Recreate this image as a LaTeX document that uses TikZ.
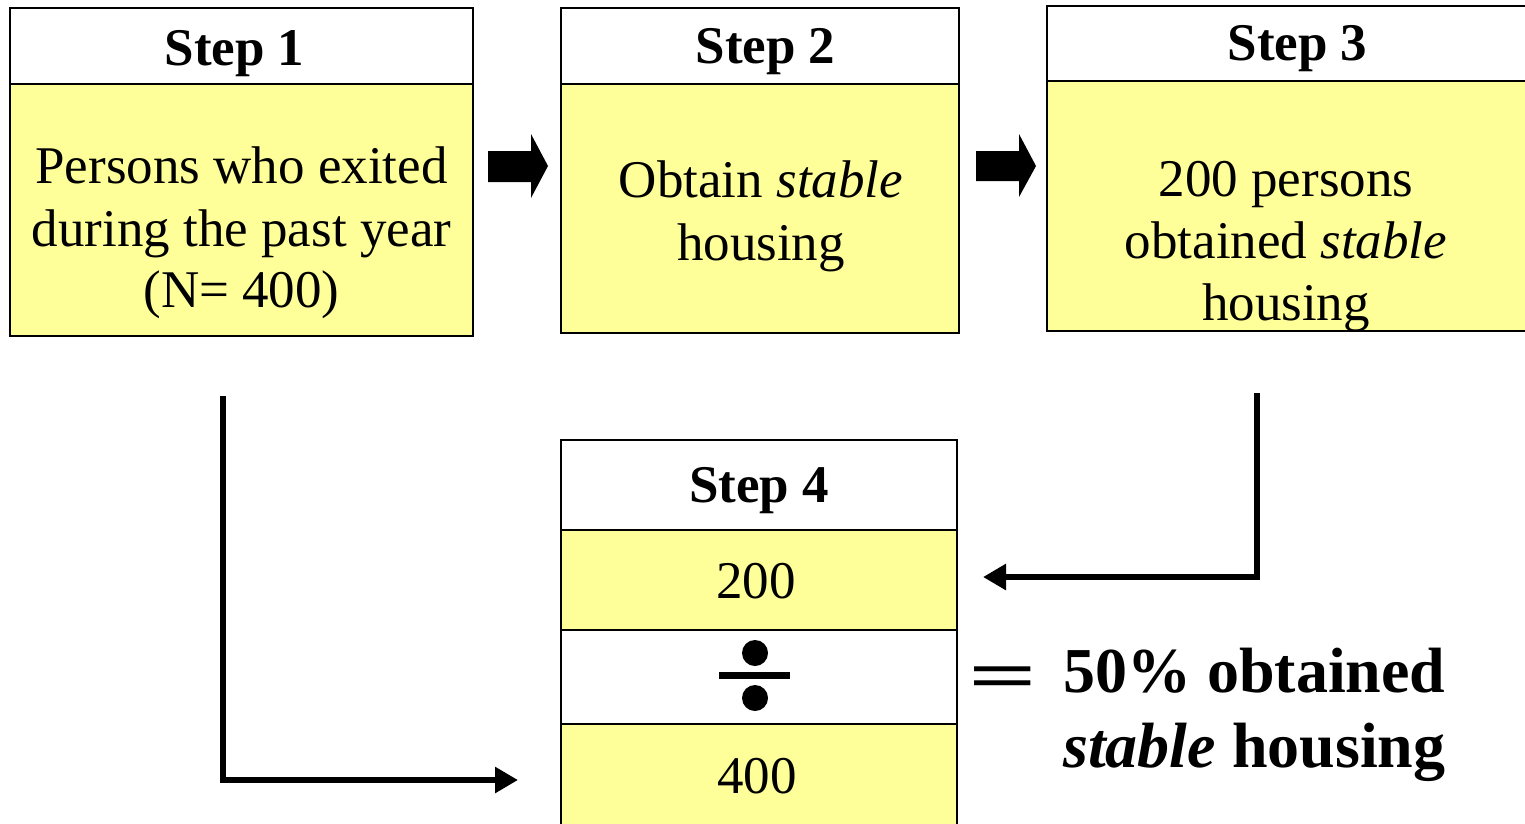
\documentclass[tikz,border=0pt]{standalone}
\usepackage{fontspec}
\setmainfont{Liberation Serif}
\usetikzlibrary{arrows.meta}
\definecolor{boxyellow}{HTML}{FFFF99}
\begin{document}
\begin{tikzpicture}[x=1pt,y=-1pt,
  cell/.style={draw=black, line width=2.5pt, anchor=north west, inner sep=0pt, outer sep=0pt},
  hdrcell/.style={cell, fill=white},
  bodycell/.style={cell, fill=boxyellow},
  hdrtext/.style={font=\fontsize{53}{62}\selectfont\bfseries, anchor=base, inner sep=0pt},
  bodytext/.style={font=\fontsize{53}{62}\selectfont, anchor=base, inner sep=0pt},
  restext/.style={font=\fontsize{64}{75}\selectfont\bfseries, anchor=base west, inner sep=0pt},
  conn/.style={line width=6.5pt, -{Triangle[length=23pt,width=25pt]}},
  blockarrow/.style={fill=black}
]
\useasboundingbox (0,0) rectangle (1525,823);
\fill[white] (0,0) rectangle (1525,823);
\node[hdrcell, minimum width=463pt, minimum height=76pt] (h1) at (10,8) {};
\node[bodycell, minimum width=463pt, minimum height=252pt] (b1) at (10,84) {};
\node[hdrtext] (s1) at (234.5,65) {Step 1};
\node[bodytext] (t1a) at (241.5,183) {Persons who exited};
\node[bodytext] (t1b) at (241.5,246) {during the past year};
\node[bodytext] (t1c) at (241.5,307) {(N= 400)};
\node[hdrcell, minimum width=398pt, minimum height=76pt] (h2) at (561,8) {};
\node[bodycell, minimum width=398pt, minimum height=249pt] (b2) at (561,84) {};
\node[hdrtext] (s2) at (765.5,63) {Step 2};
\node[bodytext] (t2a) at (761,197) {Obtain \textit{stable}};
\node[bodytext] (t2b) at (761,260) {housing};
\node[hdrcell, minimum width=480pt, minimum height=75pt] (h3) at (1047,6) {};
\node[bodycell, minimum width=480pt, minimum height=250pt] (b3) at (1047,81) {};
\node[hdrtext] (s3) at (1297.5,60) {Step 3};
\node[bodytext] (t3a) at (1286,196) {200 persons};
\node[bodytext] (t3b) at (1286,258) {obtained \textit{stable}};
\node[bodytext] (t3c) at (1286,320) {housing};
\fill[blockarrow] (488,151) -- (531,151) -- (531,134) -- (548,166) -- (531,198) -- (531,182) -- (488,182) -- cycle;
\fill[blockarrow] (976,151) -- (1019,151) -- (1019,134) -- (1036,166) -- (1019,197) -- (1019,181) -- (976,181) -- cycle;
\node[hdrcell, minimum width=396pt, minimum height=90pt] (h4) at (561,440) {};
\node[bodycell, minimum width=396pt, minimum height=100pt] (r200) at (561,530) {};
\node[hdrcell, minimum width=396pt, minimum height=94pt] (rdiv) at (561,630) {};
\node[bodycell, minimum width=396pt, minimum height=106pt] (r400) at (561,724) {};
\node[hdrtext] (s4) at (759,502) {Step 4};
\node[bodytext] (n200) at (756,598) {200};
\node[bodytext] (n400) at (757,793) {400};
\fill (755,653) circle (13pt);
\fill (755,698) circle (13pt);
\fill (719,672) rectangle (790,679);
\node[font=\fontsize{70}{70}\selectfont\bfseries, anchor=base west, inner sep=0pt, xscale=1.73] (eq) at (968,699) {=};
\node[restext] (res1) at (1063,692) {50\% obtained};
\node[restext] (res2) at (1063,767) {\textit{stable} housing};
\coordinate (c1s) at (223,396);
\coordinate (c1e) at (518,780);
\draw[conn] (c1s) |- (c1e);
\coordinate (c2s) at (1257,393);
\coordinate (c2e) at (983,577);
\draw[conn] (c2s) |- (c2e);
\end{tikzpicture}
\end{document}
